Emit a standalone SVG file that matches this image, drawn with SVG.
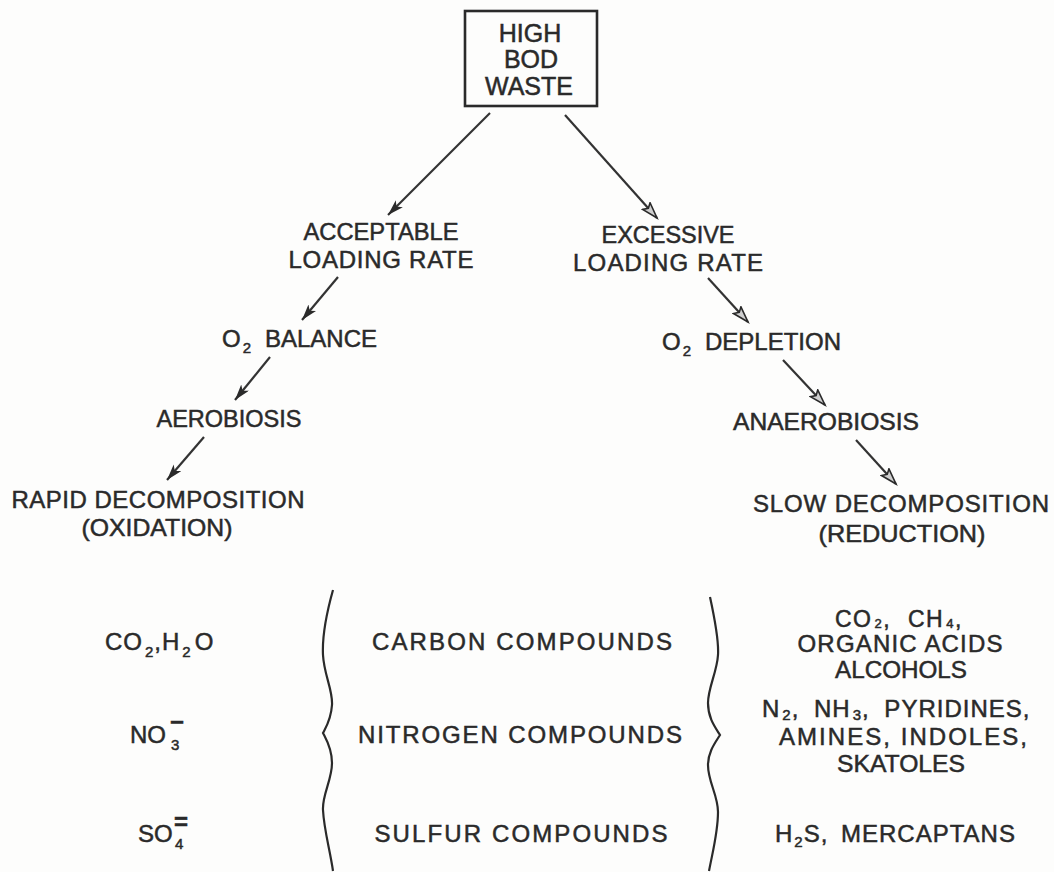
<svg xmlns="http://www.w3.org/2000/svg" width="1054" height="872" viewBox="0 0 1054 872">
<defs>
<style>
.t{font-family:"Liberation Sans",Arial,sans-serif;font-size:24px;fill:#2a2a2a;stroke:#2a2a2a;stroke-width:0.5}
.c{text-anchor:middle}
.s{font-size:15px}
.ln{stroke:#333;stroke-width:2.2;fill:none}
.br{stroke:#2a2a2a;stroke-width:2.2;fill:none}
</style>
<marker id="af" markerUnits="userSpaceOnUse" markerWidth="18" markerHeight="12" refX="16" refY="5" orient="auto">
<path d="M0,0 L16,5 L0,10 L4,5 z" fill="#2a2a2a"/>
</marker>
<marker id="ah" markerUnits="userSpaceOnUse" markerWidth="20" markerHeight="14" refX="17" refY="6" orient="auto">
<path d="M1,1 L17,6 L1,11 L4,6 z" fill="#cfcfcf" stroke="#2a2a2a" stroke-width="1.6"/>
</marker>
</defs>
<rect width="1054" height="872" fill="#fdfdfc"/>

<g id="connectors">
<line class="ln" x1="490" y1="113" x2="388" y2="215" marker-end="url(#af)"/>
<line class="ln" x1="565" y1="115" x2="657" y2="218" marker-end="url(#ah)"/>
<line class="ln" x1="338" y1="277" x2="302" y2="320" marker-end="url(#af)"/>
<line class="ln" x1="270" y1="357" x2="235" y2="400" marker-end="url(#af)"/>
<line class="ln" x1="204" y1="437" x2="167" y2="480" marker-end="url(#af)"/>
<line class="ln" x1="708" y1="278" x2="748" y2="322" marker-end="url(#ah)"/>
<line class="ln" x1="783" y1="360" x2="825" y2="405" marker-end="url(#ah)"/>
<line class="ln" x1="856" y1="440" x2="896" y2="484" marker-end="url(#ah)"/>
</g>

<g id="high-bod-waste">
<rect x="465" y="11" width="132" height="95" fill="none" stroke="#2a2a2a" stroke-width="2.6"/>
<text class="t c" x="530" y="42" style="font-size:25px">HIGH</text>
<text class="t c" x="531" y="68" style="font-size:25px">BOD</text>
<text class="t c" x="529" y="95" style="font-size:25px">WASTE</text>
</g>

<g id="acceptable">
<text class="t c" x="381" y="240" textLength="155" lengthAdjust="spacingAndGlyphs">ACCEPTABLE</text>
<text class="t c" x="381" y="268" textLength="185" lengthAdjust="spacing">LOADING  RATE</text>
</g>

<g id="excessive">
<text class="t c" x="668" y="243" textLength="133" lengthAdjust="spacingAndGlyphs">EXCESSIVE</text>
<text class="t c" x="668" y="271" textLength="190" lengthAdjust="spacing">LOADING  RATE</text>
</g>

<g id="o2-balance">
<text class="t" x="222" y="347">O<tspan class="s" dx="2" dy="6">2</tspan><tspan x="265" dy="-6">BALANCE</tspan></text>
</g>

<g id="o2-depletion">
<text class="t" x="662" y="350">O<tspan class="s" dx="2" dy="6">2</tspan><tspan x="705" dy="-6">DEPLETION</tspan></text>
</g>

<g id="aerobiosis">
<text class="t c" x="229" y="427" textLength="145" lengthAdjust="spacingAndGlyphs">AEROBIOSIS</text>
</g>

<g id="anaerobiosis">
<text class="t c" x="826" y="430" textLength="186" lengthAdjust="spacingAndGlyphs">ANAEROBIOSIS</text>
</g>

<g id="rapid-decomposition">
<text class="t c" x="158" y="508" textLength="293" lengthAdjust="spacing">RAPID  DECOMPOSITION</text>
<text class="t c" x="157" y="536" textLength="151" lengthAdjust="spacingAndGlyphs">(OXIDATION)</text>
</g>

<g id="slow-decomposition">
<text class="t c" x="901" y="512" textLength="296" lengthAdjust="spacing">SLOW  DECOMPOSITION</text>
<text class="t c" x="902" y="542" textLength="167" lengthAdjust="spacingAndGlyphs">(REDUCTION)</text>
</g>

<g id="braces">
<path class="br" d="M333,590 C326,615 322,635 323,655 C324,675 333,690 332,705 C331,720 326,727 323,733 C326,739 332,748 332,763 C332,780 322,795 323,810 C324,830 330,850 333,871"/>
<path class="br" d="M710,597 C715,620 719,640 718,655 C717,672 708,688 708,703 C708,718 715,727 720,735 C715,743 708,752 708,765 C708,782 718,795 718,812 C718,832 713,850 709,871"/>
</g>

<g id="carbon">
<text class="t" x="105" y="650" style="letter-spacing:1px">CO<tspan class="s" dx="2" dy="7">2</tspan><tspan dy="-7">,H</tspan><tspan class="s" dx="2" dy="7">2</tspan><tspan dx="3" dy="-7">O</tspan></text>
<text class="t c" x="522" y="650" textLength="300" lengthAdjust="spacing">CARBON  COMPOUNDS</text>
<text class="t" x="835" y="627" style="font-size:23px;letter-spacing:1.5px;word-spacing:9px">CO<tspan class="s" dx="2" dy="1" style="font-size:13px">2</tspan><tspan dy="-1">,  CH</tspan><tspan class="s" dx="2" dy="1" style="font-size:13px">4</tspan><tspan dy="-1">,</tspan></text>
<text class="t c" x="900" y="652" textLength="205" lengthAdjust="spacing">ORGANIC  ACIDS</text>
<text class="t c" x="901" y="678" textLength="132" lengthAdjust="spacingAndGlyphs">ALCOHOLS</text>
</g>

<g id="nitrogen">
<text class="t" x="130" y="743">NO<tspan class="s" x="171" y="750">3</tspan><tspan x="170" y="730" style="font-weight:bold">−</tspan></text>
<text class="t c" x="520" y="743" textLength="324" lengthAdjust="spacing">NITROGEN  COMPOUNDS</text>
<text class="t" x="762" y="717" style="letter-spacing:1px;word-spacing:7px">N<tspan class="s" dx="2" dy="3">2</tspan><tspan dy="-3">,  NH</tspan><tspan class="s" dx="2" dy="3">3</tspan><tspan dy="-3">,  PYRIDINES,</tspan></text>
<text class="t c" x="903" y="745" textLength="248" lengthAdjust="spacing">AMINES,  INDOLES,</text>
<text class="t c" x="901" y="772" textLength="128" lengthAdjust="spacingAndGlyphs">SKATOLES</text>
</g>

<g id="sulfur">
<text class="t" x="138" y="842">SO<tspan class="s" x="175" y="849">4</tspan><tspan x="174" y="830" style="font-weight:bold">=</tspan></text>
<text class="t c" x="521" y="842" textLength="293" lengthAdjust="spacing">SULFUR  COMPOUNDS</text>
<text class="t" x="775" y="842" style="letter-spacing:1px;word-spacing:5px">H<tspan class="s" dx="1" dy="5">2</tspan><tspan dy="-5">S,   MERCAPTANS</tspan></text>
</g>
</svg>
